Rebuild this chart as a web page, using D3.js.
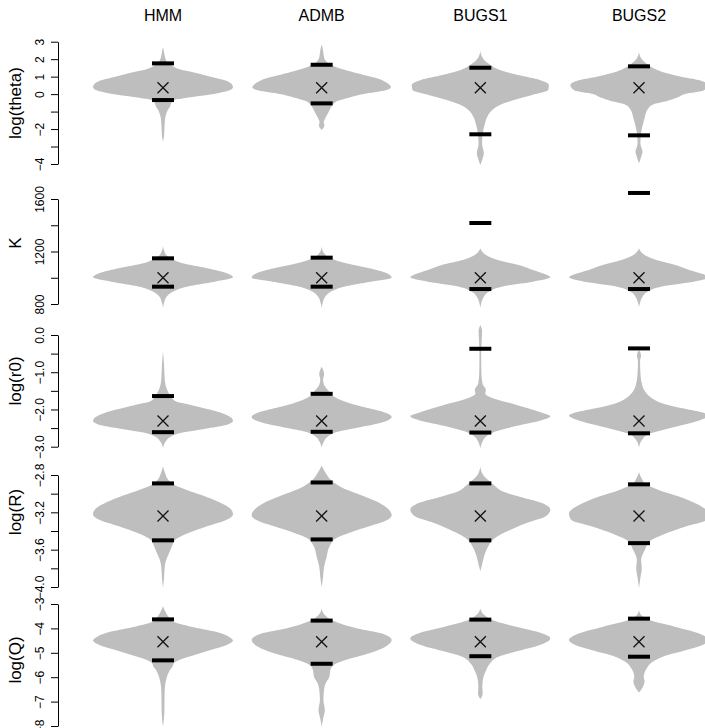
<!DOCTYPE html>
<html>
<head>
<meta charset="utf-8">
<script src="https://cdn.jsdelivr.net/npm/d3@7"></script>
<style>
body { margin: 0; background: #fff; }
text { font-family: "Liberation Sans", Arial, sans-serif; fill: #000; }
</style>
</head>
<body>
<svg class="grid" width="705" height="728"></svg>
<script>
const methods = ["HMM", "ADMB", "BUGS1", "BUGS2"];
const params = ["log(theta)", "K", "log(r0)", "log(R)", "log(Q)"];

// tick values and which of them carry a label
const ticks = [
  [-4, -3, -2, -1, 0, 1, 2, 3],
  [800, 1000, 1200, 1400, 1600],
  [-3, -2.5, -2, -1.5, -1, -0.5, 0],
  [-4, -3.8, -3.6, -3.4, -3.2, -3, -2.8],
  [-8, -7, -6, -5, -4, -3]
];
const tickLabels = [
  [-4, -2, 0, 1, 2, 3],
  [800, 1200, 1600],
  [-3, -2, -1, 0],
  [-4, -3.6, -3.2, -2.8],
  [-8, -7, -6, -5, -4, -3]
];
const tickFormats = ["d", "d", ".1f", ".1f", "d"];

// posterior means (the X) and the two interval bars, row = parameter, col = method
const means = [
  [0.36, 0.36, 0.36, 0.36],
  [1000, 1000, 1000, 1000],
  [-2.31, -2.31, -2.31, -2.31],
  [-3.24, -3.24, -3.24, -3.24],
  [-4.55, -4.55, -4.55, -4.55]
];
const upper = [
  [1.76, 1.68, 1.51, 1.59],
  [1148, 1153, 1417, 1646],
  [-1.64, -1.58, -0.37, -0.36],
  [-2.89, -2.88, -2.89, -2.9],
  [-3.63, -3.68, -3.64, -3.6]
];
const lower = [
  [-0.34, -0.53, -2.3, -2.36],
  [932, 932, 914, 914],
  [-2.61, -2.6, -2.62, -2.64],
  [-3.5, -3.49, -3.5, -3.53],
  [-5.31, -5.45, -5.14, -5.16]
];

// violin outlines: [value, relative density]
const thetaShapes = [
  [[2.69,0],[2.4,0.015],[2.1,0.03],[1.9,0.05],[1.76,0.08],[1.57,0.15],[1.4,0.26],[1.28,0.4],[1.0,0.68],[0.81,0.87],[0.62,0.97],[0.4,1.0],[0.2,0.94],[0.05,0.78],[-0.1,0.55],[-0.24,0.3],[-0.34,0.16],[-0.5,0.12],[-0.72,0.1],[-0.9,0.07],[-1.1,0.05],[-1.4,0.03],[-2.0,0.02],[-2.4,0.015],[-2.72,0]],
  [[2.86,0],[2.5,0.02],[2.2,0.03],[1.95,0.05],[1.75,0.1],[1.55,0.2],[1.35,0.36],[1.1,0.6],[0.9,0.8],[0.65,0.93],[0.4,0.99],[0.2,0.9],[0.0,0.6],[-0.2,0.4],[-0.45,0.2],[-0.6,0.16],[-0.85,0.12],[-1.1,0.09],[-1.4,0.05],[-1.6,0.03],[-1.8,0.04],[-2.05,0]],
  [[2.48,0],[2.1,0.03],[1.76,0.11],[1.38,0.28],[1.09,0.54],[0.81,0.85],[0.52,0.98],[0.23,0.97],[-0.05,0.74],[-0.34,0.48],[-0.62,0.28],[-0.91,0.17],[-1.29,0.1],[-1.77,0.06],[-2.24,0.035],[-2.82,0.025],[-3.39,0.05],[-3.77,0.025],[-4.06,0]],
  [[2.4,0],[2.0,0.04],[1.76,0.1],[1.38,0.26],[1.19,0.4],[1.0,0.6],[0.81,0.85],[0.52,0.98],[0.2,0.92],[0.0,0.66],[-0.2,0.55],[-0.4,0.4],[-0.6,0.2],[-0.9,0.12],[-1.29,0.085],[-1.67,0.06],[-2.2,0.03],[-2.82,0.02],[-3.3,0.05],[-3.6,0.03],[-3.96,0]]
];
const kShapes = [
  [[1242,0],[1200,0.02],[1160,0.07],[1130,0.18],[1110,0.28],[1072,0.63],[1034,0.91],[1003,1.0],[970,0.74],[932,0.34],[894,0.14],[856,0.05],[820,0.02],[772,0]],
  [[1237,0],[1190,0.03],[1150,0.12],[1110,0.35],[1072,0.68],[1034,0.93],[1000,1.0],[970,0.7],[932,0.32],[894,0.13],[856,0.05],[820,0.02],[768,0]],
  [[1224,0],[1173,0.08],[1135,0.25],[1097,0.55],[1059,0.75],[1026,0.93],[1003,1.0],[970,0.75],[937,0.35],[894,0.12],[856,0.05],[820,0.02],[772,0]],
  [[1224,0],[1173,0.08],[1135,0.25],[1097,0.52],[1059,0.72],[1026,0.92],[1003,1.0],[970,0.78],[937,0.36],[894,0.12],[856,0.05],[820,0.02],[780,0]]
];
const r0Shapes = [
  [[-0.43,0],[-0.8,0.015],[-1.2,0.025],[-1.48,0.06],[-1.62,0.1],[-1.78,0.18],[-1.88,0.4],[-2.01,0.68],[-2.15,0.91],[-2.3,1.0],[-2.44,0.85],[-2.53,0.57],[-2.62,0.28],[-2.73,0.11],[-2.87,0.035],[-3.04,0]],
  [[-0.85,0],[-1.05,0.035],[-1.2,0.02],[-1.34,0.035],[-1.48,0.09],[-1.62,0.15],[-1.75,0.28],[-1.92,0.57],[-2.05,0.85],[-2.2,1.0],[-2.37,0.82],[-2.49,0.51],[-2.6,0.23],[-2.73,0.085],[-2.87,0.03],[-3.02,0]],
  [[0.27,0],[0.1,0.025],[-0.1,0.02],[-0.5,0.012],[-1.0,0.015],[-1.3,0.03],[-1.48,0.08],[-1.57,0.07],[-1.71,0.2],[-1.84,0.45],[-1.97,0.68],[-2.1,0.9],[-2.18,1.0],[-2.3,0.85],[-2.4,0.62],[-2.5,0.4],[-2.62,0.18],[-2.73,0.08],[-2.87,0.03],[-3.04,0]],
  [[-0.4,0],[-0.55,0.03],[-0.7,0.015],[-1.0,0.02],[-1.3,0.04],[-1.5,0.08],[-1.68,0.17],[-1.84,0.34],[-1.97,0.62],[-2.1,0.94],[-2.16,1.0],[-2.3,0.85],[-2.42,0.62],[-2.55,0.34],[-2.66,0.14],[-2.8,0.05],[-3.02,0]]
];
const bigRShapes = [
  [[-2.71,0],[-2.78,0.03],[-2.86,0.085],[-2.91,0.17],[-2.96,0.34],[-3.02,0.57],[-3.09,0.8],[-3.16,0.96],[-3.22,1.0],[-3.28,0.91],[-3.35,0.63],[-3.42,0.37],[-3.5,0.17],[-3.57,0.125],[-3.64,0.085],[-3.71,0.045],[-3.78,0.025],[-3.9,0.015],[-4.01,0]],
  [[-2.7,0],[-2.78,0.06],[-2.86,0.14],[-2.93,0.28],[-3.0,0.51],[-3.09,0.8],[-3.18,0.97],[-3.23,1.0],[-3.31,0.85],[-3.35,0.68],[-3.41,0.43],[-3.48,0.2],[-3.57,0.11],[-3.68,0.07],[-3.78,0.035],[-3.89,0.02],[-4.0,0]],
  [[-2.71,0],[-2.8,0.04],[-2.88,0.15],[-2.93,0.23],[-2.98,0.33],[-3.03,0.55],[-3.1,0.88],[-3.17,1.0],[-3.24,0.94],[-3.31,0.68],[-3.38,0.45],[-3.45,0.26],[-3.5,0.17],[-3.57,0.11],[-3.68,0.05],[-3.76,0.025],[-3.83,0]],
  [[-2.77,0],[-2.84,0.04],[-2.9,0.1],[-2.96,0.28],[-3.03,0.57],[-3.12,0.85],[-3.21,1.0],[-3.28,0.97],[-3.35,0.68],[-3.44,0.34],[-3.5,0.17],[-3.6,0.085],[-3.71,0.03],[-3.8,0.04],[-3.9,0.02],[-4.01,0]]
];
const qShapes = [
  [[-3.09,0],[-3.38,0.045],[-3.6,0.1],[-3.72,0.14],[-3.93,0.4],[-4.13,0.74],[-4.34,0.94],[-4.5,1.0],[-4.68,0.91],[-4.89,0.68],[-5.09,0.45],[-5.3,0.23],[-5.45,0.15],[-5.55,0.14],[-5.7,0.1],[-5.98,0.057],[-6.39,0.028],[-6.8,0.022],[-7.4,0.02],[-8.03,0]],
  [[-3.18,0],[-3.45,0.045],[-3.7,0.17],[-4.0,0.51],[-4.2,0.85],[-4.48,1.0],[-4.75,0.91],[-5.02,0.68],[-5.3,0.34],[-5.5,0.17],[-5.7,0.125],[-5.98,0.11],[-6.25,0.057],[-6.52,0.034],[-6.93,0.025],[-7.34,0.045],[-7.7,0.02],[-8.03,0]],
  [[-3.18,0],[-3.45,0.057],[-3.72,0.23],[-3.93,0.51],[-4.13,0.8],[-4.41,1.0],[-4.68,0.85],[-4.95,0.51],[-5.16,0.26],[-5.43,0.14],[-5.7,0.085],[-5.98,0.045],[-6.39,0.028],[-6.66,0.034],[-6.9,0]],
  [[-3.25,0],[-3.45,0.03],[-3.68,0.17],[-3.93,0.51],[-4.2,0.85],[-4.48,1.0],[-4.68,0.91],[-4.89,0.68],[-5.16,0.34],[-5.36,0.2],[-5.57,0.125],[-5.77,0.085],[-5.98,0.068],[-6.18,0.08],[-6.39,0.057],[-6.63,0]]
];
const shapes = [thetaShapes, kShapes, r0Shapes, bigRShapes, qShapes];

// pixel extent of each row's tick range, and where its title sits
const rowLayout = [
  { top: 41.7, bottom: 164, titleY: 103 },
  { top: 199, bottom: 304, titleY: 243 },
  { top: 335, bottom: 446.7, titleY: 381 },
  { top: 475, bottom: 587, titleY: 512 },
  { top: 604, bottom: 726, titleY: 660 }
];

const axisX = 58;
const svg = d3.select("svg.grid");

const x = d3.scalePoint()
  .domain(methods)
  .range([163, 639]);

const halfWidth = d3.scaleLinear()
  .domain([0, 1])
  .range([0, 70]);

svg.selectAll("text.method")
  .data(methods)
  .enter()
  .append("text")
  .attr("class", "method")
  .attr("x", d => x(d))
  .attr("y", 21)
  .attr("text-anchor", "middle")
  .style("font-size", "16px")
  .text(d => d);

params.forEach((p, r) => {
  const lay = rowLayout[r];
  const y = d3.scaleLinear()
    .domain(d3.extent(ticks[r]))
    .range([lay.bottom, lay.top]);
  const fmt = d3.format(tickFormats[r]);

  const row = svg.append("g").attr("class", "row");

  // axis
  const axis = row.append("g")
    .attr("transform", `translate(${axisX},0)`)
    .call(d3.axisLeft(y)
      .tickValues(ticks[r])
      .tickSize(7)
      .tickSizeOuter(0)
      .tickFormat(d => tickLabels[r].includes(d) ? fmt(d).replace("-", "\u2212") : ""));
  axis.select(".domain").attr("stroke", "#000");
  axis.selectAll(".tick line").attr("stroke", "#000");
  axis.selectAll(".tick text")
    .attr("x", null)
    .attr("dy", null)
    .attr("text-anchor", "middle")
    .attr("transform", "translate(-14,0) rotate(-90)")
    .style("font-size", "12px")
    .style("font-family", "'Liberation Sans', Arial, sans-serif")
    .attr("fill", "#000");

  row.append("text")
    .attr("transform", `translate(21,${lay.titleY}) rotate(-90)`)
    .attr("text-anchor", "middle")
    .style("font-size", "17px")
    .text(p);

  const cells = row.selectAll("g.cell")
    .data(methods)
    .enter()
    .append("g")
    .attr("class", "cell");

  cells.append("path")
    .attr("fill", "#bebebe")
    .attr("d", (m, i) => {
      const cx = x(m);
      return d3.area()
        .curve(d3.curveMonotoneY)
        .y(d => y(d[0]))
        .x0(d => cx - halfWidth(d[1]))
        .x1(d => cx + halfWidth(d[1]))(shapes[r][i]);
    });

  // interval bars
  [upper, lower].forEach(bound => {
    cells.append("line")
      .attr("x1", m => x(m) - 11)
      .attr("x2", m => x(m) + 11)
      .attr("y1", (m, i) => y(bound[r][i]))
      .attr("y2", (m, i) => y(bound[r][i]))
      .attr("stroke", "#000")
      .attr("stroke-width", 4);
  });

  // mean marker
  const s = 5.5;
  cells.append("path")
    .attr("fill", "none")
    .attr("stroke", "#111")
    .attr("stroke-width", 1.3)
    .attr("d", (m, i) => {
      const cx = x(m), cy = y(means[r][i]);
      return `M${cx - s},${cy - s}L${cx + s},${cy + s}M${cx - s},${cy + s}L${cx + s},${cy - s}`;
    });
});
</script>
</body>
</html>
